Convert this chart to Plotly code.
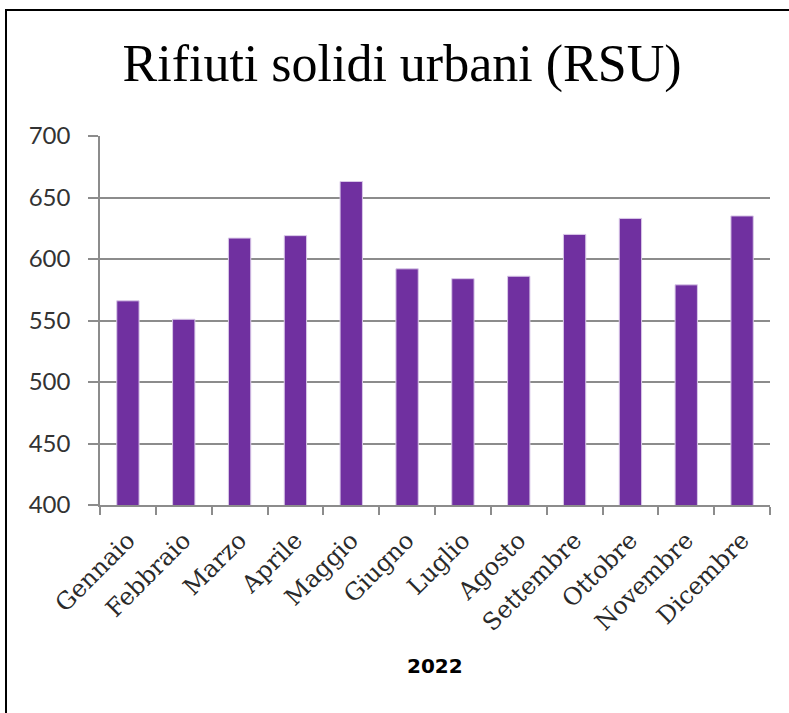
import plotly.graph_objects as go

months = ["Gennaio", "Febbraio", "Marzo", "Aprile", "Maggio", "Giugno",
          "Luglio", "Agosto", "Settembre", "Ottobre", "Novembre", "Dicembre"]
values = [566, 551, 617, 619, 663, 592, 584, 586, 620, 633, 579, 635]
y_ticks = [400, 450, 500, 550, 600, 650, 700]
title_text = "Rifiuti solidi urbani (RSU)"
x_title = "2022"

W, H = 789, 713
L, R, T, B = 100, 19, 136, 208
pw, ph = W - L - R, H - T - B

def px_x(x):
    return (x - L) / pw

def px_y(y):
    return (H - B - y) / ph

fig = go.Figure(go.Bar(
    x=months, y=values,
    marker=dict(color="#7030A0", line=dict(color="#d9c8e8", width=1)),
))

fig.update_layout(
    width=W, height=H,
    margin=dict(l=L, r=R, t=T, b=B),
    paper_bgcolor="white", plot_bgcolor="white",
    bargap=0.6,
    showlegend=False,
    title=dict(text=title_text, x=402 / W, xref="container", xanchor="center",
               y=1 - 63 / H, yref="container", yanchor="middle",
               font=dict(family="Liberation Serif", size=52, color="black")),
    xaxis=dict(
        type="category",
        showgrid=False,
        showline=True, linecolor="#8c8c8c", linewidth=1.5,
        ticks="outside", tickson="boundaries", ticklen=8, tickcolor="#8c8c8c", tickwidth=1.5,
        tickangle=-45,
        ticklabelstandoff=10,
        tickfont=dict(family="DejaVu Serif", size=24, color="#2a2a2a"),
    ),
    yaxis=dict(
        range=[400, 700],
        tickvals=y_ticks,
        showgrid=True, gridcolor="#8c8c8c", gridwidth=1.5,
        showline=True, linecolor="#8c8c8c", linewidth=1.5,
        ticks="outside", ticklen=10, tickcolor="#8c8c8c", tickwidth=1.5,
        ticklabelstandoff=13,
        tickfont=dict(family="Lato", size=24, color="#333333"),
        zeroline=False,
    ),
    annotations=[dict(text=x_title, xref="paper", yref="paper",
                      x=px_x(435), y=px_y(666), xanchor="center", yanchor="middle",
                      showarrow=False,
                      font=dict(family="DejaVu Sans", size=20, color="black", weight="bold"))],
    shapes=[dict(type="rect", xref="paper", yref="paper",
                 x0=px_x(6), x1=px_x(820), y0=px_y(740), y1=px_y(10),
                 line=dict(color="black", width=2), fillcolor="rgba(0,0,0,0)", layer="below")],
)

fig.write_html("out.html", config={"displayModeBar": False},
               post_script="document.body.style.margin='0';")
